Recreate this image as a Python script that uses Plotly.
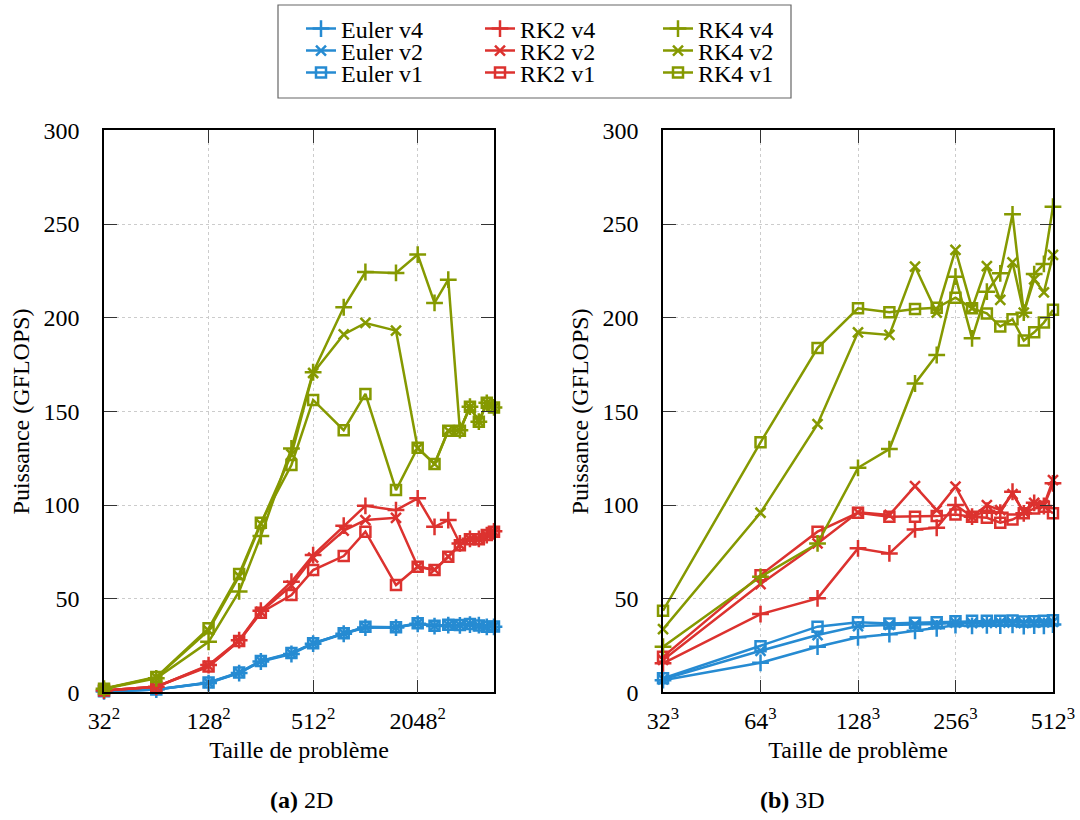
import math
import plotly.graph_objects as go
from plotly.subplots import make_subplots

# problem sizes (side length)
n_2d = [32, 64, 128, 192, 256, 384, 512, 768, 1024, 1536, 2048, 2560, 3072, 3584, 4096, 4608, 5120, 5632]
n_3d = [32, 64, 96, 128, 160, 192, 224, 256, 288, 320, 352, 384, 416, 448, 480, 512]

# GFLOPS, 2D
euler_v4_2d = [0.5, 1.5, 5.0, 10.3, 16.5, 20.5, 26.0, 31.3, 34.6, 34.6, 36.6, 35.4, 35.9, 35.8, 36.2, 35.9, 35.0, 35.0]
euler_v2_2d = [0.5, 1.6, 5.2, 10.5, 16.7, 20.8, 26.2, 31.5, 34.8, 34.7, 36.8, 35.5, 36.0, 35.9, 36.4, 35.5, 34.9, 35.1]
euler_v1_2d = [0.6, 1.6, 5.3, 10.6, 16.8, 21.0, 26.3, 31.6, 35.0, 34.8, 36.9, 35.6, 36.1, 36.0, 36.5, 35.7, 35.1, 35.2]
rk2_v4_2d = [1.0, 3.0, 14.6, 27.9, 43.6, 59.1, 73.3, 89.0, 99.6, 97.3, 103.6, 88.4, 92.0, 79.5, 82.0, 82.0, 84.0, 86.0]
rk2_v2_2d = [1.0, 3.0, 14.2, 27.5, 43.0, 57.0, 72.0, 86.3, 92.0, 93.2, 67.2, 65.5, 72.5, 78.8, 81.8, 81.8, 84.0, 85.8]
rk2_v1_2d = [1.0, 3.0, 13.8, 27.5, 42.5, 52.0, 65.3, 72.8, 85.8, 57.3, 67.1, 65.3, 72.4, 78.6, 81.7, 81.7, 84.0, 85.8]
rk4_v4_2d = [2.0, 7.5, 27.0, 53.9, 83.5, 130.2, 170.9, 205.6, 224.4, 223.9, 233.7, 207.9, 220.3, 140.0, 152.5, 144.5, 154.6, 152.1]
rk4_v2_2d = [2.0, 8.0, 33.0, 62.0, 90.0, 127.0, 170.5, 191.1, 197.2, 193.1, 130.4, 122.0, 139.8, 139.8, 152.3, 144.6, 154.5, 152.0]
rk4_v1_2d = [2.0, 8.2, 34.2, 63.2, 90.6, 121.4, 156.1, 140.0, 159.3, 108.0, 130.6, 121.9, 139.7, 139.7, 152.5, 144.5, 154.6, 152.1]

# GFLOPS, 3D
euler_v4_3d = [6.5, 15.8, 24.4, 29.4, 31.1, 32.9, 34.2, 35.9, 35.5, 35.8, 35.6, 36.0, 35.4, 35.7, 35.5, 36.2]
euler_v2_3d = [7.0, 22.2, 30.6, 35.4, 36.0, 36.3, 36.5, 37.2, 37.0, 37.1, 37.3, 37.2, 37.0, 37.3, 37.4, 37.6]
euler_v1_3d = [7.5, 24.7, 35.1, 37.4, 36.8, 37.2, 37.5, 38.0, 38.2, 38.3, 38.3, 38.4, 37.8, 38.0, 38.2, 38.5]
rk2_v4_3d = [15.5, 41.8, 50.2, 76.9, 74.2, 87.0, 87.9, 100.0, 93.8, 97.0, 95.9, 107.1, 95.6, 101.2, 99.5, 111.6]
rk2_v2_3d = [17.3, 57.8, 79.5, 96.1, 94.7, 110.1, 97.3, 109.8, 93.8, 100.0, 97.3, 105.9, 96.4, 101.2, 100.0, 113.3]
rk2_v1_3d = [19.0, 62.6, 85.8, 95.9, 93.8, 93.8, 94.1, 95.0, 93.8, 93.2, 90.6, 92.3, 95.6, 98.2, 99.1, 95.6]
rk4_v4_3d = [24.4, 61.7, 79.5, 119.9, 129.9, 164.9, 180.1, 221.9, 189.0, 213.9, 223.7, 255.2, 202.7, 223.3, 228.7, 259.3]
rk4_v2_3d = [33.8, 95.9, 143.2, 192.2, 190.8, 227.3, 202.7, 236.2, 205.0, 227.6, 209.5, 229.6, 202.7, 220.5, 213.6, 233.5]
rk4_v1_3d = [43.6, 133.5, 183.8, 205.0, 202.9, 204.6, 205.3, 210.7, 205.0, 202.3, 195.3, 199.2, 187.8, 192.2, 197.4, 204.2]

ticks_2d = [32, 128, 512, 2048]
ticks_3d = [32, 64, 128, 256, 512]
y_ticks = [0, 50, 100, 150, 200, 250, 300]

BLUE = '#268bd2'
RED = '#dc322f'
GREEN = '#859900'
FONT = 'Liberation Serif'

W, H = 1080, 820


def px_x(p):
    return p / W


def px_y(p):
    return 1 - p / H


series = [
    ('Euler v4', BLUE, 'cross-thin-open', euler_v4_2d, euler_v4_3d),
    ('Euler v2', BLUE, 'x-thin-open', euler_v2_2d, euler_v2_3d),
    ('Euler v1', BLUE, 'square-open', euler_v1_2d, euler_v1_3d),
    ('RK2 v4', RED, 'cross-thin-open', rk2_v4_2d, rk2_v4_3d),
    ('RK2 v2', RED, 'x-thin-open', rk2_v2_2d, rk2_v2_3d),
    ('RK2 v1', RED, 'square-open', rk2_v1_2d, rk2_v1_3d),
    ('RK4 v4', GREEN, 'cross-thin-open', rk4_v4_2d, rk4_v4_3d),
    ('RK4 v2', GREEN, 'x-thin-open', rk4_v2_2d, rk4_v2_3d),
    ('RK4 v1', GREEN, 'square-open', rk4_v1_2d, rk4_v1_3d),
]

# one legend per entry so the rows can sit as close as in the original
leg_cols = [301, 480, 658]
leg_rows = [29, 51, 73]

fig = make_subplots(rows=1, cols=2)

legends = {}
for i, (name, color, sym, y2, y3) in enumerate(series):
    size = 12 if sym == 'cross-thin-open' else 10
    marker = dict(symbol=sym, size=size, color=color, line=dict(color=color, width=2.5))
    leg = 'legend' if i == 0 else f'legend{i + 1}'
    fig.add_trace(go.Scatter(x=n_2d, y=y2, name=name, mode='lines+markers',
                             line=dict(color=color, width=2.5), marker=marker,
                             legend=leg, cliponaxis=False), row=1, col=1)
    fig.add_trace(go.Scatter(x=n_3d, y=y3, name=name, mode='lines+markers',
                             line=dict(color=color, width=2.5), marker=marker,
                             showlegend=False, cliponaxis=False), row=1, col=2)
    legends[leg] = dict(x=px_x(leg_cols[i // 3]), y=px_y(leg_rows[i % 3]),
                        xanchor='left', yanchor='middle', bgcolor='rgba(0,0,0,0)',
                        borderwidth=0, font=dict(family=FONT, size=24, color='black'))

axis_common = dict(
    showline=True, linecolor='black', linewidth=1.5, mirror='allticks',
    ticks='inside', ticklen=13, tickwidth=1.2, tickcolor='#333333',
    showgrid=True, gridcolor='#cccccc', griddash='dot', gridwidth=1,
    zeroline=False, automargin=False, ticklabeloverflow='allow',
    tickfont=dict(family=FONT, size=24, color='black'),
    title_font=dict(family=FONT, size=24, color='black'),
)

fig.update_xaxes(axis_common)
fig.update_yaxes(axis_common)

eps = 1e-4
fig.update_xaxes(type='log', range=[math.log10(32) - eps, math.log10(n_2d[-1]) + eps],
                 tickvals=ticks_2d, ticktext=[f'{t}<sup>2</sup>' for t in ticks_2d],
                 domain=[px_x(104), px_x(494)], ticklabelstandoff=6,
                 title=dict(text='Taille de problème', standoff=8), row=1, col=1)
fig.update_xaxes(type='log', range=[math.log10(32) - eps, math.log10(512) + eps],
                 tickvals=ticks_3d, ticktext=[f'{t}<sup>3</sup>' for t in ticks_3d],
                 domain=[px_x(663), px_x(1053)], ticklabelstandoff=6,
                 title=dict(text='Taille de problème', standoff=8), row=1, col=2)
for c in (1, 2):
    fig.update_yaxes(range=[0, 300], tickvals=y_ticks, domain=[px_y(692.4), px_y(130.4)],
                     ticklabelstandoff=18,
                     title=dict(text='Puissance (GFLOPS)', standoff=7), row=1, col=c)

fig.update_layout(
    width=W, height=H,
    margin=dict(l=0, r=0, t=0, b=0),
    plot_bgcolor='white', paper_bgcolor='white',
    shapes=[dict(type='rect', xref='paper', yref='paper',
                 x0=px_x(278), x1=px_x(791), y0=px_y(98), y1=px_y(5),
                 line=dict(color='#666666', width=1.2))],
    annotations=[
        dict(text='<b>(a)</b> 2D', x=px_x(268), y=px_y(800), xref='paper', yref='paper',
             yanchor='middle', showarrow=False, font=dict(family=FONT, size=24, color='black')),
        dict(text='<b>(b)</b> 3D', x=px_x(827), y=px_y(800), xref='paper', yref='paper',
             yanchor='middle', showarrow=False, font=dict(family=FONT, size=24, color='black')),
    ],
)
fig.update_layout(**legends)

# drop the default 8px page margin so the figure fills the window exactly
fig.write_html("out.html", config={'displayModeBar': False},
               post_script="document.body.style.margin='0';")
